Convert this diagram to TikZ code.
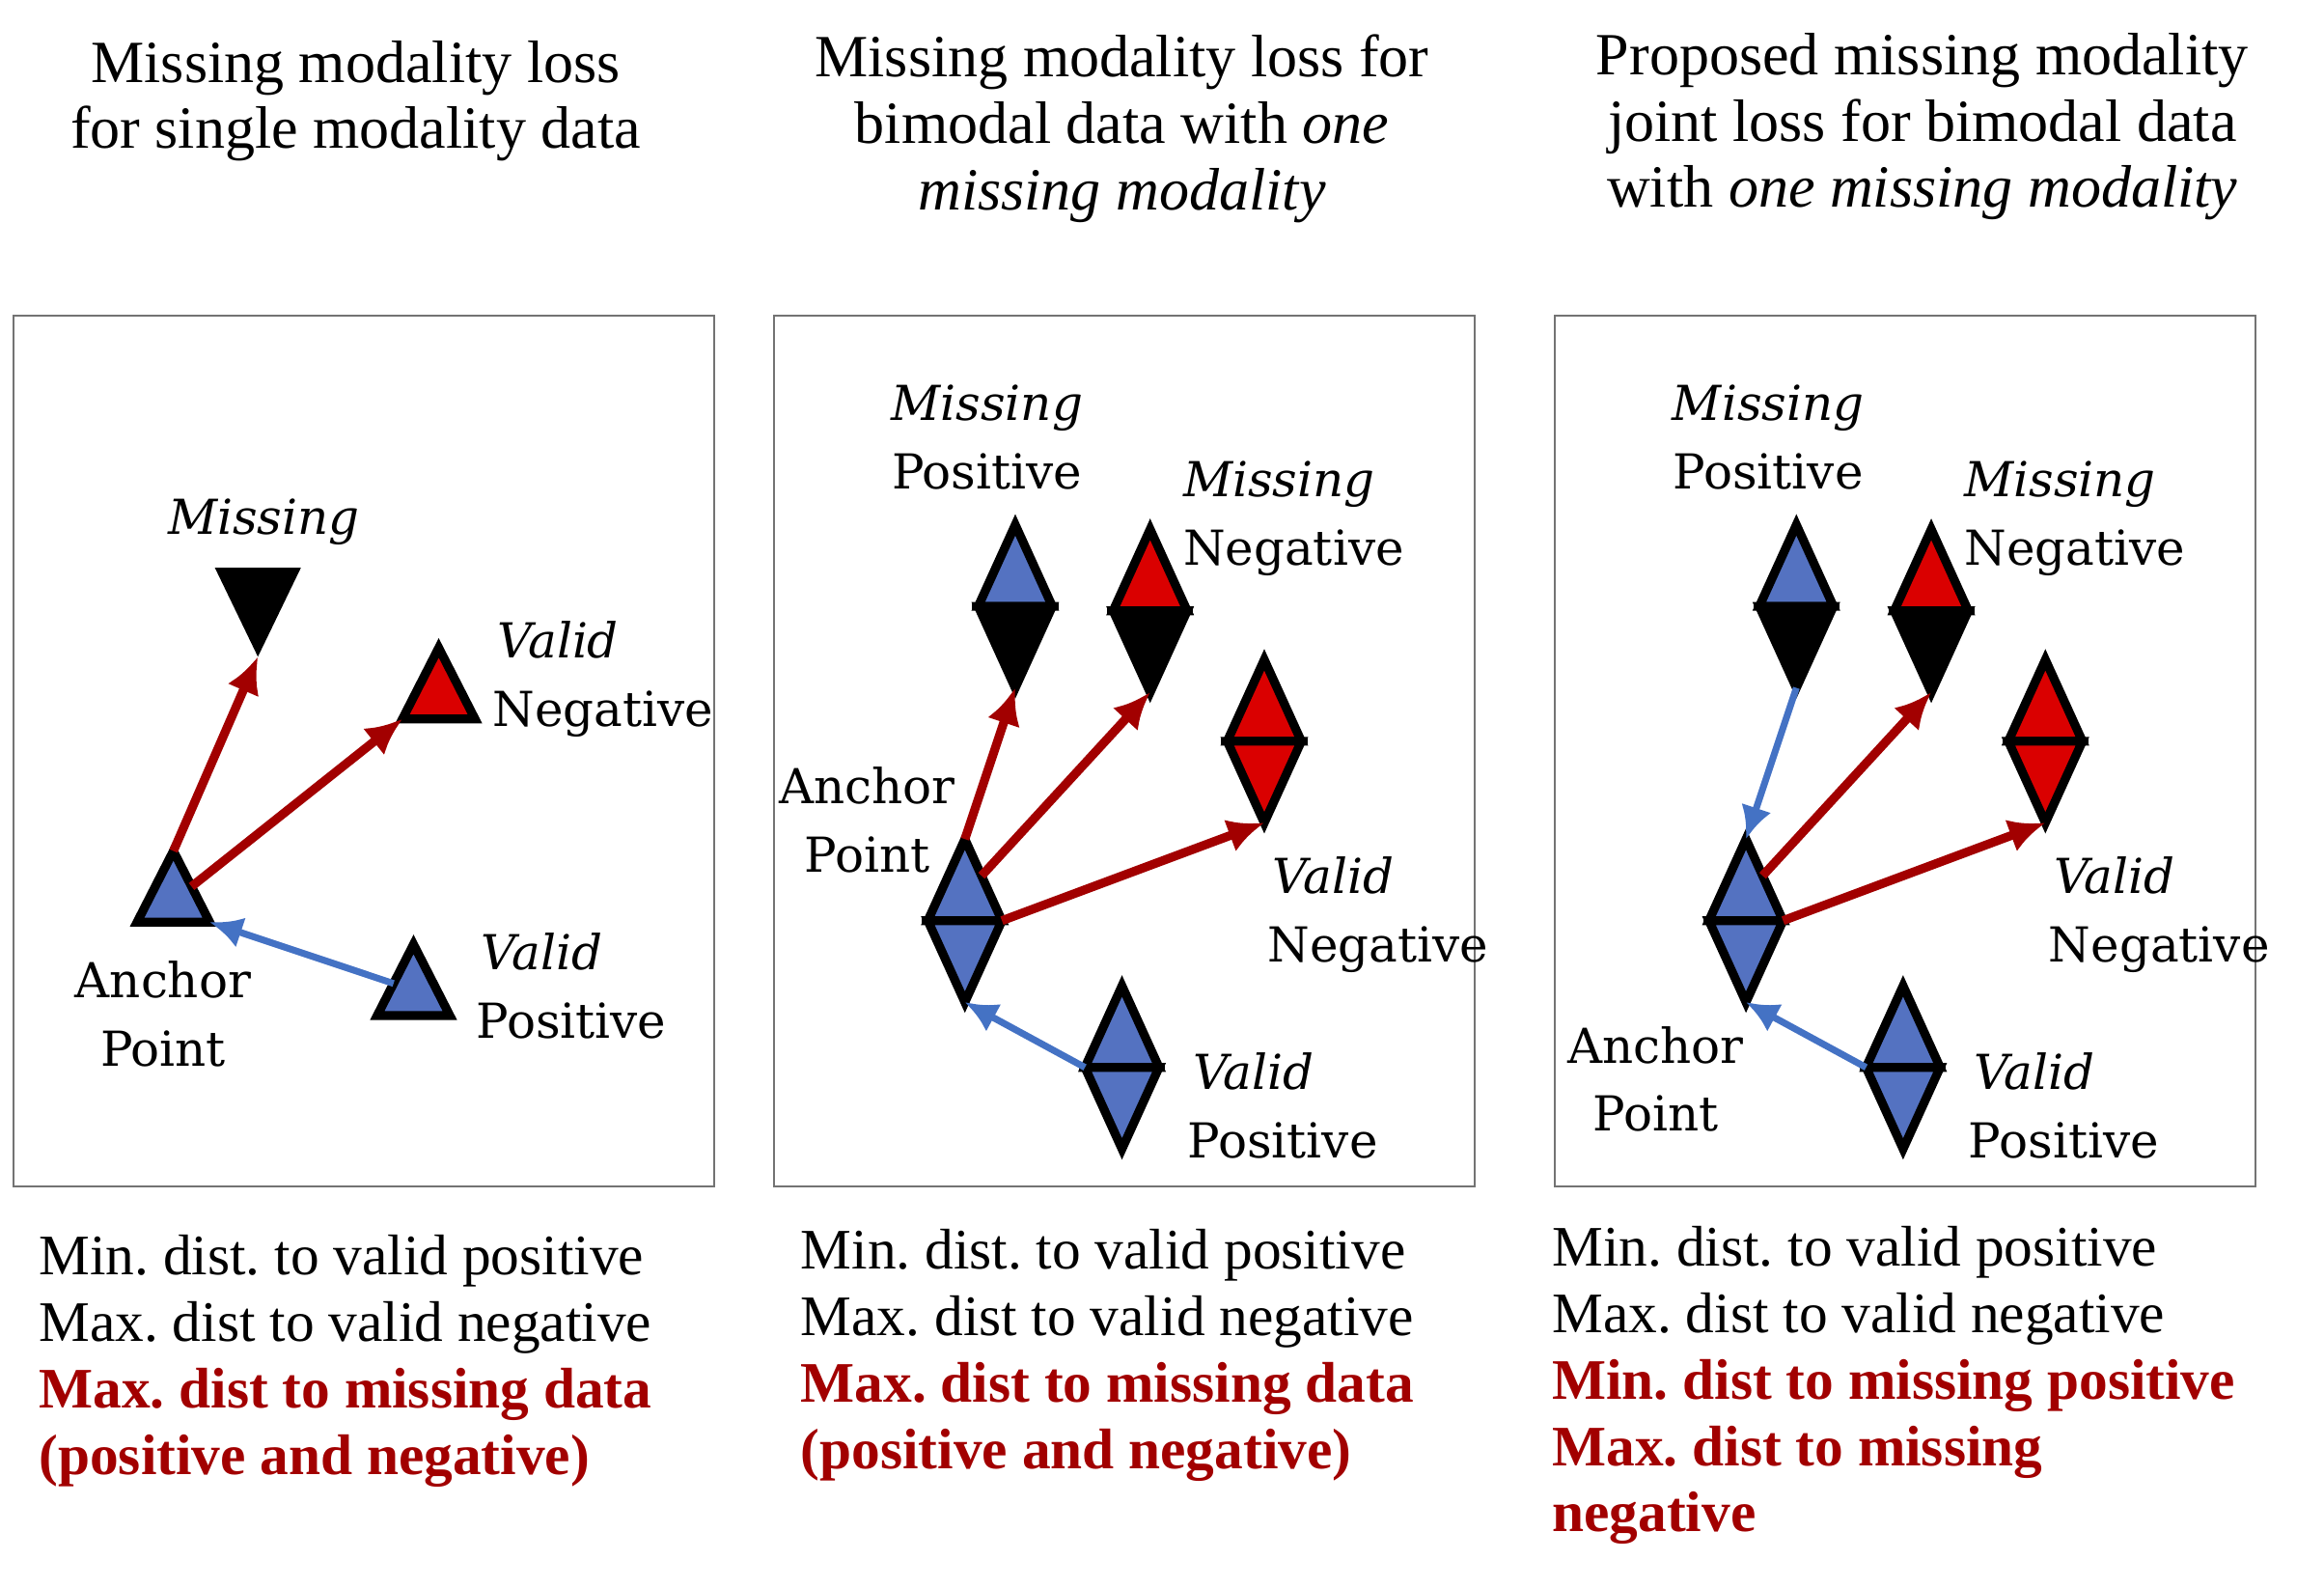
\documentclass[tikz,border=0pt]{standalone}
\usepackage{fontspec}
\setmainfont{Liberation Serif}
\newfontfamily\ptfont{DejaVu Serif}
\usepackage{xcolor}
\usetikzlibrary{arrows.meta}
\usetikzlibrary{calc}
\definecolor{ptblue}{RGB}{84,114,193}
\definecolor{ptred}{RGB}{218,0,0}
\definecolor{lossred}{RGB}{162,0,0}
\definecolor{pullblue}{RGB}{68,114,196}
\frenchspacing

\tikzset{
 panelbox/.style={draw=black!55, line width=0.7pt},
 shapeline/.style={draw=black, line width=3.4pt, line join=miter},
 push/.style={draw=lossred, line width=3.4pt, -{Latex[length=14pt,width=13pt]}},
 pull/.style={draw=pullblue, line width=2.6pt, -{Latex[length=12.5pt,width=12pt]}},
 paneltitle/.style={align=center, inner sep=0pt, anchor=north, font=\fontsize{23}{25.5}\selectfont},
 critlist/.style={align=left, inner sep=0pt, anchor=north west, font=\fontsize{22}{25.5}\selectfont},
 ptlabel/.style={inner sep=0pt, font=\ptfont\fontsize{18.5}{26.2}\selectfont},
}

% one modality: triangle, apex at (#2,#3)
\newcommand{\unimodal}[4]{
 \coordinate (#1-n) at (#2,#3);
 \coordinate (#1-w) at (#2-24.5,#3+48);
 \coordinate (#1-e) at (#2+24.5,#3+48);
 \filldraw[shapeline, fill=#4] (#1-n) -- (#1-w) -- (#1-e) -- cycle;
}
% two modalities: diamond, centre at (#2,#3)
\newcommand{\bimodal}[5]{
 \coordinate (#1) at (#2,#3);
 \coordinate (#1-n) at (#2,#3-55);
 \coordinate (#1-s) at (#2,#3+55);
 \coordinate (#1-w) at (#2-25,#3);
 \coordinate (#1-e) at (#2+25,#3);
 \filldraw[shapeline, fill=#4] (#1-n) -- (#1-w) -- (#1-e) -- cycle;
 \filldraw[shapeline, fill=#5] (#1-s) -- (#1-w) -- (#1-e) -- cycle;
 \draw[line width=2.4pt] ($(#1-w)+(-4,0)$) -- ($(#1-e)+(4,0)$);
}
\newcommand{\validtxt}{\hspace*{2pt}\itshape Valid}

\begin{document}
\begin{tikzpicture}[x=0.02cm, y=-0.02cm]
\useasboundingbox (0,0) rectangle (1568,1071);

% titles
\node[paneltitle] (t1) at (240,27) {Missing modality loss\\for single modality data};
\node[paneltitle] (t2) at (757,23) {Missing modality loss for\\bimodal data with \textit{one}\\\textit{missing modality}};
\node[paneltitle] (t3) at (1297,22) {Proposed missing modality\\joint loss for bimodal data\\with \textit{one missing modality}};

\draw[panelbox] (9,213) rectangle (482,800);
\draw[panelbox] (522,213) rectangle (995,800);
\draw[panelbox] (1049,213) rectangle (1522,800);

%% single modality
\unimodal{A1}{117}{574}{ptblue}
\unimodal{VN1}{296}{437}{ptred}
\unimodal{VP1}{279}{637}{ptblue}
\coordinate (M1-l) at (145,383);
\coordinate (M1-r) at (203,383);
\coordinate (M1-s) at (174,443);
\fill (M1-l) -- (M1-r) -- (M1-s) -- cycle;

\draw[push] (A1-n) -- (M1-s);
\draw[push] ($(A1-n)!0.5!(A1-e)$) -- (VN1-w);
\draw[pull] ($(VP1-n)!0.55!(VP1-w)$) -- (A1-e);

\node[ptlabel] (m1) at (178,352) {\itshape Missing};
\node[ptlabel, align=left, anchor=west] (vn1) at (332,458) {\validtxt\\Negative};
\node[ptlabel, align=left, anchor=west] (vp1) at (321,665) {\validtxt\\Positive};
\node[ptlabel, align=center] (a1) at (110,684) {Anchor\\Point};

%% bimodal
\bimodal{MP2}{685}{409}{ptblue}{black}
\bimodal{MN2}{776}{412}{ptred}{black}
\bimodal{VN2}{853}{500}{ptred}{ptred}
\bimodal{A2}{651}{621}{ptblue}{ptblue}
\bimodal{VP2}{757}{720}{ptblue}{ptblue}

\draw[push] (A2-n) -- (MP2-s);
\draw[push] ($(A2-n)!0.45!(A2-e)$) -- (MN2-s);
\draw[push] (A2-e) -- (VN2-s);
\draw[pull] (VP2-w) -- (A2-s);

\node[ptlabel, align=center] (mp2) at (666,295) {\itshape Missing\\Positive};
\node[ptlabel, align=left, anchor=west] (mn2) at (798,350) {\itshape Missing\\Negative};
\node[ptlabel, align=center] (a2) at (585,553) {Anchor\\Point};
\node[ptlabel, align=left, anchor=west] (vn2) at (855,617) {\validtxt\\Negative};
\node[ptlabel, align=left, anchor=west] (vp2) at (801,746) {\validtxt\\Positive};

%% proposed joint loss
\bimodal{MP3}{1212}{409}{ptblue}{black}
\bimodal{MN3}{1303}{412}{ptred}{black}
\bimodal{VN3}{1380}{500}{ptred}{ptred}
\bimodal{A3}{1178}{621}{ptblue}{ptblue}
\bimodal{VP3}{1284}{720}{ptblue}{ptblue}

\draw[pull] (MP3-s) -- (A3-n);
\draw[push] ($(A3-n)!0.45!(A3-e)$) -- (MN3-s);
\draw[push] (A3-e) -- (VN3-s);
\draw[pull] (VP3-w) -- (A3-s);

\node[ptlabel, align=center] (mp3) at (1193,295) {\itshape Missing\\Positive};
\node[ptlabel, align=left, anchor=west] (mn3) at (1325,350) {\itshape Missing\\Negative};
\node[ptlabel, align=center] (a3) at (1117,728) {Anchor\\Point};
\node[ptlabel, align=left, anchor=west] (vn3) at (1382,617) {\validtxt\\Negative};
\node[ptlabel, align=left, anchor=west] (vp3) at (1328,746) {\validtxt\\Positive};

% criteria
\node[critlist] (c1) at (26,833) {Min. dist. to valid positive\\Max. dist to valid negative\\\color{lossred}\bfseries Max. dist to missing data\\\color{lossred}\bfseries (positive and negative)};
\node[critlist] (c2) at (540,829) {Min. dist. to valid positive\\Max. dist to valid negative\\\color{lossred}\bfseries Max. dist to missing data\\\color{lossred}\bfseries (positive and negative)};
\node[critlist] (c3) at (1047,827) {Min. dist. to valid positive\\Max. dist to valid negative\\\color{lossred}\bfseries Min. dist to missing positive\\\color{lossred}\bfseries Max. dist to missing\\\color{lossred}\bfseries negative};
\end{tikzpicture}
\end{document}
